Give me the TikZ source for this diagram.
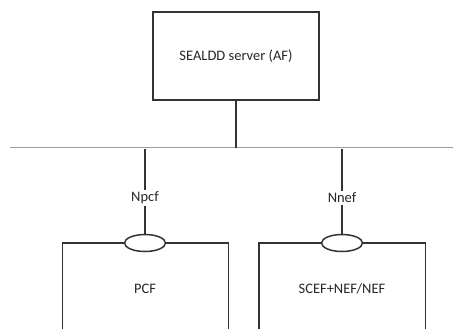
\documentclass[tikz,border=0pt]{standalone}
\usepackage{fontspec}
\setmainfont{Carlito}
\usetikzlibrary{shapes.geometric}
\begin{document}
\begin{tikzpicture}[x=1bp,y=-1bp,
  ln/.style={draw=black!80,line width=1.5bp},
  bus/.style={draw=black!38,line width=1.5bp},
  lbl/.style={font=\fontsize{14.5bp}{17bp}\selectfont,text=black!85,inner sep=1.5bp},
  port/.style={ellipse,draw=black!80,line width=1.5bp,fill=white,minimum width=41bp,minimum height=17bp,inner sep=0pt}]
\useasboundingbox (0,0) rectangle (453,329);
\node[ln,rectangle,minimum width=166bp,minimum height=88bp,lbl,inner sep=0pt] (af) at (236,56) {SEALDD server (AF)};
\coordinate (busL) at (10,147.5);
\coordinate (busR) at (453,147.5);
\coordinate (busM) at (236,147.5);
\draw[bus] (busL) -- (busR);
\draw[ln] (af.south) -- (busM);
% PCF
\node[lbl] (npcf) at (145,198) {Npcf};
\node[port] (ppcf) at (145,243) {};
\coordinate (tpcf) at (145,149);
\draw[ln] (tpcf) -- (npcf.north);
\draw[ln] (npcf.south) -- (ppcf.north);
\coordinate (pcfBL) at (62.5,329);
\coordinate (pcfTL) at (62.5,243);
\coordinate (pcfTR) at (228.5,243);
\coordinate (pcfBR) at (228.5,329);
\draw[ln] (pcfBL) -- (pcfTL) -- (ppcf.west);
\draw[ln] (ppcf.east) -- (pcfTR) -- (pcfBR);
\node[lbl] (pcf) at (145,289) {PCF};
% NEF
\node[lbl] (nnef) at (342,198) {Nnef};
\node[port] (pnef) at (342,243) {};
\coordinate (tnef) at (342,149);
\draw[ln] (tnef) -- (nnef.north);
\draw[ln] (nnef.south) -- (pnef.north);
\coordinate (nefBL) at (259,329);
\coordinate (nefTL) at (259,243);
\coordinate (nefTR) at (425.5,243);
\coordinate (nefBR) at (425.5,329);
\draw[ln] (nefBL) -- (nefTL) -- (pnef.west);
\draw[ln] (pnef.east) -- (nefTR) -- (nefBR);
\node[lbl] (nef) at (342,289) {SCEF+NEF/NEF};
\end{tikzpicture}
\end{document}
